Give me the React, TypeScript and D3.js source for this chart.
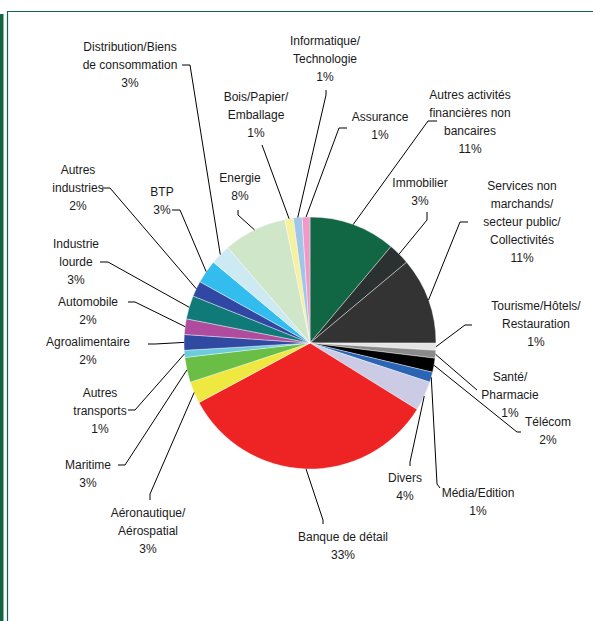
import React from "react";
import * as d3 from "d3";

const categories = [
  "Autres activités financières non bancaires",
  "Immobilier",
  "Services non marchands/ secteur public/ Collectivités",
  "Tourisme/Hôtels/ Restauration",
  "Santé/ Pharmacie",
  "Télécom",
  "Média/Edition",
  "Divers",
  "Banque de détail",
  "Aéronautique/ Aérospatial",
  "Maritime",
  "Autres transports",
  "Agroalimentaire",
  "Automobile",
  "Industrie lourde",
  "Autres industries",
  "BTP",
  "Distribution/Biens de consommation",
  "Energie",
  "Bois/Papier/ Emballage",
  "Informatique/ Technologie",
  "Assurance",
];

const values = [
  11.1, 2.8, 11.1, 0.9, 1.0, 1.8, 1.3, 3.8, 33.3, 2.8, 3.2, 0.9, 2.0, 2.0, 3.0,
  2.0, 3.0, 2.6, 8.1, 1.1, 1.1, 1.0,
];

const colors = [
  "#116644", "#2b3131", "#333333", "#e4e4e4", "#8a8a8a", "#000000", "#2a64b4",
  "#cbcbe6", "#ee2324", "#efe840", "#6abd45", "#6ccbdc", "#2f4aa0", "#b04c9e",
  "#0f7a78", "#3048a4", "#33bdee", "#cde9f1", "#cfe6c9", "#f5f19e", "#9fc5e9",
  "#ef9ac6",
];

// label layout: text lines, center x, first line center y, anchor & elbow of leader
const labelLayout: {
  lines: string[];
  cx: number;
  y0: number;
  anchor: [number, number];
  elbow: [number, number];
}[] = [
  { lines: ["Autres activités", "financières non", "bancaires"], cx: 470, y0: 95, anchor: [437, 121], elbow: [428, 121] },
  { lines: ["Immobilier"], cx: 420, y0: 183, anchor: [427, 212], elbow: [427, 220] },
  { lines: ["Services non", "marchands/", "secteur public/", "Collectivités"], cx: 522, y0: 186, anchor: [468, 222], elbow: [460, 222] },
  { lines: ["Tourisme/Hôtels/", "Restauration"], cx: 536, y0: 306, anchor: [472, 325], elbow: [465, 325] },
  { lines: ["Santé/", "Pharmacie"], cx: 510, y0: 377, anchor: [477, 390], elbow: [477, 390] },
  { lines: ["Télécom"], cx: 548, y0: 422, anchor: [521, 432], elbow: [517, 432] },
  { lines: ["Média/Edition"], cx: 478, y0: 493, anchor: [440, 488], elbow: [437, 484] },
  { lines: ["Divers"], cx: 405, y0: 478, anchor: [410, 466], elbow: [410, 462] },
  { lines: ["Banque de détail"], cx: 343, y0: 537, anchor: [323, 524], elbow: [323, 520] },
  { lines: ["Aéronautique/", "Aérospatial"], cx: 148, y0: 513, anchor: [150, 500], elbow: [150, 494] },
  { lines: ["Maritime"], cx: 88, y0: 465, anchor: [118, 465], elbow: [125, 465] },
  { lines: ["Autres", "transports"], cx: 100, y0: 393, anchor: [128, 410], elbow: [135, 410] },
  { lines: ["Agroalimentaire"], cx: 88, y0: 342, anchor: [148, 344], elbow: [155, 344] },
  { lines: ["Automobile"], cx: 88, y0: 302, anchor: [128, 302], elbow: [135, 302] },
  { lines: ["Industrie", "lourde"], cx: 76, y0: 244, anchor: [100, 262], elbow: [108, 262] },
  { lines: ["Autres", "industries"], cx: 78, y0: 170, anchor: [102, 188], elbow: [110, 188] },
  { lines: ["BTP"], cx: 162, y0: 192, anchor: [172, 210], elbow: [180, 210] },
  { lines: ["Distribution/Biens", "de consommation"], cx: 130, y0: 47, anchor: [182, 65], elbow: [190, 65] },
  { lines: ["Energie"], cx: 240, y0: 178, anchor: [238, 210], elbow: [238, 215] },
  { lines: ["Bois/Papier/", "Emballage"], cx: 256, y0: 97, anchor: [262, 145], elbow: [262, 145] },
  { lines: ["Informatique/", "Technologie"], cx: 325, y0: 41, anchor: [326, 90], elbow: [326, 95] },
  { lines: ["Assurance"], cx: 380, y0: 117, anchor: [347, 128], elbow: [339, 128] },
];

const W = 593;
const H = 621;
const CX = 310;
const CY = 343;
const R = 126;
const LINE_H = 18;

export default function App() {
  const pie = d3.pie<number>().sort(null).value((d) => d);
  const arcs = pie(values);
  const arcGen = d3.arc<d3.PieArcDatum<number>>().innerRadius(0).outerRadius(R);
  const edgeArc = d3.arc<d3.PieArcDatum<number>>().innerRadius(R).outerRadius(R);

  return (
    <svg
      width={W}
      height={H}
      style={{ position: "absolute", left: 0, top: 0, background: "#fff" }}
      fontFamily="Liberation Sans, Arial, sans-serif"
    >
      <rect x={0} y={14} width={3.5} height={H - 14} fill="#116644" />
      <line x1={7.5} y1={11} x2={7.5} y2={H} stroke="#116644" strokeWidth={1.2} />
      <line x1={7} y1={11.5} x2={W} y2={11.5} stroke="#116644" strokeWidth={1.2} />
      <g transform={`translate(${CX},${CY})`}>
        {arcs.map((a, i) => (
          <path key={i} d={arcGen(a) || ""} fill={colors[i]} stroke="#ffffff" strokeWidth={0.4} />
        ))}
      </g>
      {arcs.map((a, i) => {
        const L = labelLayout[i];
        const [px, py] = edgeArc.centroid(a);
        const pts = [L.anchor, L.elbow, [px + CX, py + CY]];
        const pct = `${Math.round(values[i])}%`;
        const allLines = [...L.lines, pct];
        return (
          <g key={i}>
            <polyline
              points={pts.map((p) => p.join(",")).join(" ")}
              fill="none"
              stroke="#000"
              strokeWidth={1}
            />
            <text textAnchor="middle" fontSize={12} fill="#1a1a1a">
              {allLines.map((t, j) => (
                <tspan key={j} x={L.cx} y={L.y0 + j * LINE_H} dy="0.35em">
                  {t}
                </tspan>
              ))}
            </text>
          </g>
        );
      })}
    </svg>
  );
}
